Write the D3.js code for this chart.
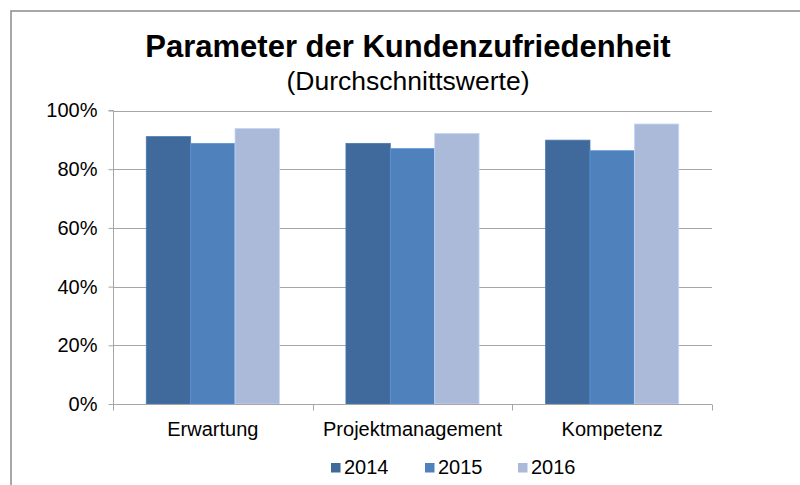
<!DOCTYPE html>
<html>
<head>
<meta charset="utf-8">
<script src="https://cdn.jsdelivr.net/npm/d3@7"></script>
<style>
  body { margin: 0; background: #fff; }
  svg { display: block; font-family: "Liberation Sans", Arial, sans-serif; }
</style>
</head>
<body>
<svg id="chart" width="800" height="485"></svg>
<script>
const categories = ["Erwartung", "Projektmanagement", "Kompetenz"];
const years = ["2014", "2015", "2016"];
const values2014 = [0.911, 0.888, 0.899];
const values2015 = [0.888, 0.870, 0.863];
const values2016 = [0.939, 0.922, 0.954];
const yTicks = [0, 0.2, 0.4, 0.6, 0.8, 1.0];
const colors = ["#3f6a9b", "#4f81bd", "#aabad8"];

const series = [values2014, values2015, values2016];

const svg = d3.select("#chart");
const margin = { left: 113, right: 88, top: 110.5, bottom: 81 };
const W = 800, H = 485;

// outer frame
svg.append("rect")
  .attr("x", 11).attr("y", 11)
  .attr("width", 820).attr("height", 500)
  .attr("fill", "none")
  .attr("stroke", "#8a8a8a")
  .attr("stroke-width", 1.5);

const x0 = d3.scaleBand()
  .domain(categories)
  .range([margin.left, W - margin.right]);

const x1 = d3.scaleBand()
  .domain(years)
  .range([0, x0.bandwidth()])
  .paddingOuter(0.75);

const y = d3.scaleLinear()
  .domain([0, 1])
  .range([H - margin.bottom, margin.top]);

// gridlines
svg.append("g")
  .selectAll("line")
  .data(yTicks.filter(d => d > 0))
  .join("line")
  .attr("x1", margin.left).attr("x2", W - margin.right)
  .attr("y1", d => Math.round(y(d)) + 0.5).attr("y2", d => Math.round(y(d)) + 0.5)
  .attr("stroke", "#a6a6a6");

// bars
const groups = svg.append("g")
  .selectAll("g")
  .data(categories)
  .join("g")
  .attr("transform", d => `translate(${x0(d)},0)`);

groups.selectAll("rect")
  .data((d, i) => years.map((yr, j) => ({ yr, v: series[j][i], j })))
  .join("rect")
  .attr("x", d => x1(d.yr))
  .attr("width", x1.bandwidth())
  .attr("y", d => y(d.v))
  .attr("height", d => y(0) - y(d.v))
  .attr("fill", d => colors[d.j])
  .attr("stroke", d => d3.color(colors[d.j]).brighter(0.4))
  .attr("stroke-width", 0.8);

// y axis
const yAxis = d3.axisLeft(y)
  .tickValues(yTicks)
  .tickSize(5)
  .tickPadding(11)
  .tickFormat(d3.format(".0%"));

const gy = svg.append("g")
  .attr("transform", `translate(${margin.left + 0.5},0)`)
  .call(yAxis);
gy.select(".domain").attr("stroke", "#a6a6a6").attr("d", `M-5,${y(1)}H0V${y(0)}`);
gy.selectAll(".tick line").attr("stroke", "#a6a6a6");
gy.selectAll(".tick text")
  .attr("fill", "#000")
  .style("font-size", "20px");

// x axis
const xAxis = d3.axisBottom(x0).tickSize(0).tickPadding(17);
const gx = svg.append("g")
  .attr("transform", `translate(0,${Math.round(y(0)) + 0.5})`)
  .call(xAxis);
gx.select(".domain").attr("stroke", "#a6a6a6").attr("d", `M${margin.left},0H${W - margin.right}`);
gx.selectAll(".tick text")
  .attr("fill", "#000")
  .style("font-size", "20px");

// category boundary ticks
const bounds = categories.map(c => x0(c)).concat([x0(categories[categories.length - 1]) + x0.bandwidth()]);
gx.append("g")
  .selectAll("line")
  .data(bounds)
  .join("line")
  .attr("x1", d => Math.round(d) + 0.5).attr("x2", d => Math.round(d) + 0.5)
  .attr("y1", 0).attr("y2", 6)
  .attr("stroke", "#a6a6a6");

// title
svg.append("text")
  .attr("x", 408).attr("y", 57)
  .attr("text-anchor", "middle")
  .style("font-size", "31px")
  .style("font-weight", "bold")
  .text("Parameter der Kundenzufriedenheit");

svg.append("text")
  .attr("x", 408).attr("y", 90)
  .attr("text-anchor", "middle")
  .style("font-size", "26.5px")
  .text("(Durchschnittswerte)");

// legend
const legendX = [331, 425, 518];
const legend = svg.append("g")
  .selectAll("g")
  .data(years)
  .join("g")
  .attr("transform", (d, i) => `translate(${legendX[i]},0)`);

legend.append("rect")
  .attr("x", 0).attr("y", 463)
  .attr("width", 9.5).attr("height", 9.5)
  .attr("fill", (d, i) => colors[i]);

legend.append("text")
  .attr("x", 13).attr("y", 474)
  .style("font-size", "20px")
  .text(d => d);
</script>
</body>
</html>
